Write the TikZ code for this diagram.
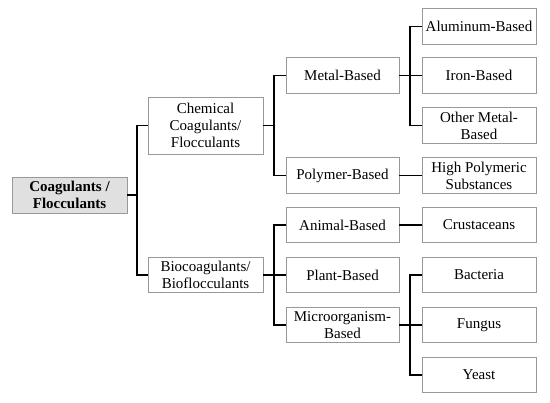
\documentclass[tikz,border=0pt]{standalone}
\usepackage{fontspec}
\setmainfont{Liberation Serif}
\begin{document}
\begin{tikzpicture}[x=1pt,y=-1pt,
  box/.style={draw=black!40,line width=0.8pt,fill=white,align=center,inner sep=1pt,
    font=\fontsize{15}{17}\selectfont,minimum height=35.5pt},
  lvone/.style={box,minimum width=115pt},
  lvtwo/.style={box,minimum width=113pt},
  lvthree/.style={box,minimum width=114pt},
  conn/.style={draw=black,line width=1.2pt}]
\useasboundingbox (0,0) rectangle (550,403);
\node[box,minimum width=115pt,minimum height=36pt,fill=black!12,font=\fontsize{15}{17}\selectfont\bfseries] (root) at (69.5,195) {Coagulants /\\Flocculants};
\node[lvone,minimum height=57pt] (chem) at (205.5,125.5) {Chemical\\Coagulants/\\Flocculants};
\node[lvone] (bio) at (205.5,275) {Biocoagulants/\\Bioflocculants};
\node[lvtwo] (metal) at (342.5,75.5) {Metal-Based};
\node[lvtwo] (poly) at (342.5,175.5) {Polymer-Based};
\node[lvtwo] (animal) at (342.5,225) {Animal-Based};
\node[lvtwo] (plant) at (342.5,275) {Plant-Based};
\node[lvtwo] (micro) at (342.5,325) {Microorganism-\\Based};
\node[lvthree] (alu) at (479,26.5) {Aluminum-Based};
\node[lvthree] (iron) at (479,75.5) {Iron-Based};
\node[lvthree] (other) at (479,125.5) {Other Metal-\\Based};
\node[lvthree] (high) at (479,175.5) {High Polymeric\\Substances};
\node[lvthree] (crust) at (479,225) {Crustaceans};
\node[lvthree] (bact) at (479,275) {Bacteria};
\node[lvthree] (fungus) at (479,325) {Fungus};
\node[lvthree] (yeast) at (479,375) {Yeast};
\coordinate (j1) at (137,195);
\coordinate (j2) at (274,125.5);
\coordinate (j3) at (410,75.5);
\coordinate (j4) at (274,275);
\coordinate (j5) at (410,325);
\draw[conn] (root.east) -- (j1);
\draw[conn] (chem.west) -| (j1) |- (bio.west);
\draw[conn] (chem.east) -- (j2);
\draw[conn] (metal.west) -| (j2) |- (poly.west);
\draw[conn] (metal.east) -- (iron.west);
\draw[conn] (alu.west) -| (j3) |- (other.west);
\draw[conn] (poly.east) -- (high.west);
\draw[conn] (bio.east) -- (j4);
\draw[conn] (animal.west) -| (j4) |- (micro.west);
\draw[conn] (plant.west) -- (j4);
\draw[conn] (animal.east) -- (crust.west);
\draw[conn] (micro.east) -- (fungus.west);
\draw[conn] (bact.west) -| (j5) |- (yeast.west);
\end{tikzpicture}
\end{document}
